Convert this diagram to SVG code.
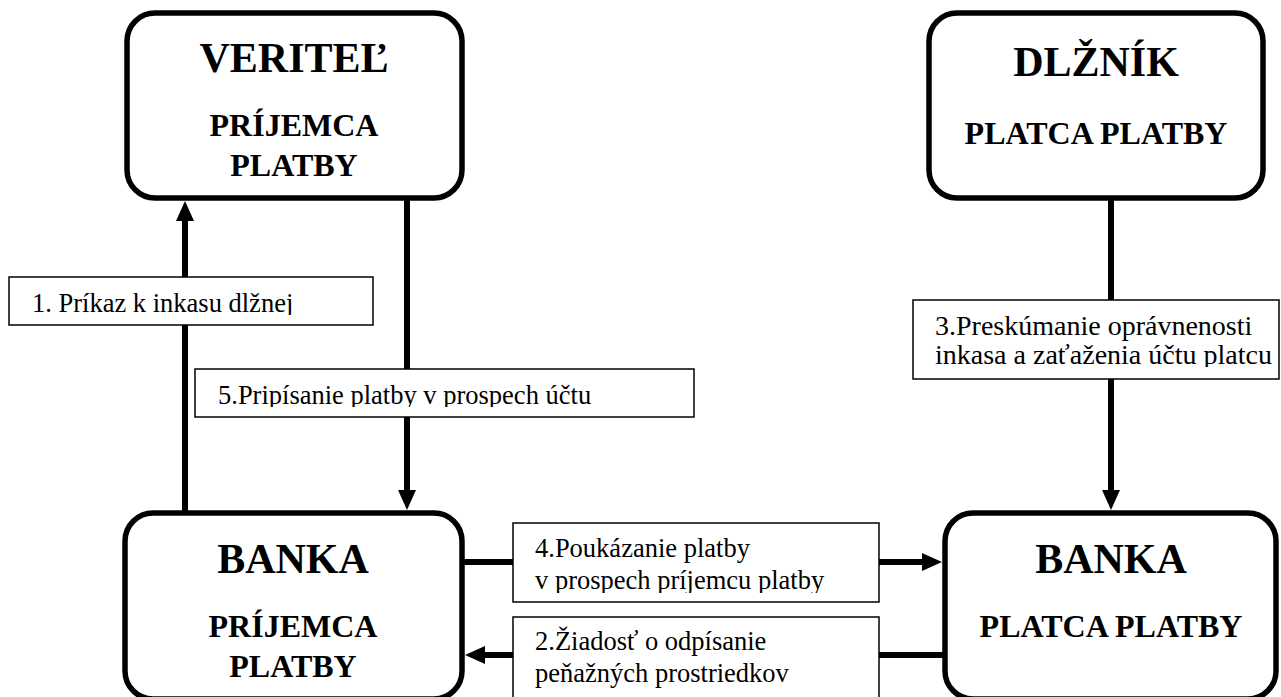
<svg xmlns="http://www.w3.org/2000/svg" width="1281" height="697" viewBox="0 0 1281 697">
<style>
.node{fill:#fff;stroke:#000;stroke-width:5.5}
.title{font-family:"Liberation Serif","Times New Roman",serif;font-weight:bold;font-size:42px;text-anchor:middle;fill:#000}
.sub{font-family:"Liberation Serif","Times New Roman",serif;font-weight:bold;font-size:32px;text-anchor:middle;fill:#000}
.conn{stroke:#000;stroke-width:6;fill:none}
.head{fill:#000}
.lbox{fill:#fff;stroke:#000;stroke-width:1.5}
.ltxt{font-family:"Liberation Serif","Times New Roman",serif;font-size:26.5px;fill:#000}
</style>
<defs>
<clipPath id="c1"><rect x="9" y="277" width="364" height="38"/></clipPath>
<clipPath id="c5"><rect x="195" y="369" width="499" height="38"/></clipPath>
<clipPath id="c3"><rect x="913" y="300" width="366" height="67"/></clipPath>
<clipPath id="c4"><rect x="513" y="523" width="366" height="70"/></clipPath>
<clipPath id="c2"><rect x="513" y="617" width="366" height="90"/></clipPath>
</defs>
<g id="connectors">
<line class="conn" x1="185" y1="513" x2="185" y2="215"/>
<polygon class="head" points="185,201 176,221 194,221"/>
<line class="conn" x1="407" y1="198" x2="407" y2="495"/>
<polygon class="head" points="407,510 398,490 416,490"/>
<line class="conn" x1="1111" y1="198" x2="1111" y2="495"/>
<polygon class="head" points="1111,510 1102,490 1120,490"/>
<line class="conn" x1="462" y1="562" x2="926" y2="562"/>
<polygon class="head" points="942,562 922,553 922,571"/>
<line class="conn" x1="945" y1="655" x2="480" y2="655"/>
<polygon class="head" points="465,655 485,646 485,664"/>
</g>
<g id="veritel">
<rect class="node" x="127" y="13" width="335" height="185" rx="28"/>
<text class="title" x="294" y="72">VERITEĽ</text>
<text class="sub" x="294" y="136">PRÍJEMCA</text>
<text class="sub" x="294" y="176">PLATBY</text>
</g>
<g id="dlznik">
<rect class="node" x="929" y="13" width="334" height="185" rx="28"/>
<text class="title" x="1096" y="76">DLŽNÍK</text>
<text class="sub" x="1096" y="144">PLATCA PLATBY</text>
</g>
<g id="banka-prijemca">
<rect class="node" x="125" y="513" width="337" height="186" rx="28"/>
<text class="title" x="293" y="573">BANKA</text>
<text class="sub" x="293" y="637">PRÍJEMCA</text>
<text class="sub" x="293" y="677">PLATBY</text>
</g>
<g id="banka-platca">
<rect class="node" x="945" y="513" width="331" height="186" rx="28"/>
<text class="title" x="1111" y="573">BANKA</text>
<text class="sub" x="1111" y="637">PLATCA PLATBY</text>
</g>
<g id="label1">
<rect class="lbox" x="9" y="277" width="364" height="48"/>
<text class="ltxt" x="32" y="312" clip-path="url(#c1)">1. Príkaz k inkasu dlžnej</text>
</g>
<g id="label5">
<rect class="lbox" x="195" y="369" width="499" height="48"/>
<text class="ltxt" x="218" y="404" clip-path="url(#c5)">5.Pripísanie platby v prospech účtu</text>
</g>
<g id="label3">
<rect class="lbox" x="913" y="300" width="366" height="79"/>
<g clip-path="url(#c3)">
<text class="ltxt" x="935" y="335" style="font-size:28px">3.Preskúmanie oprávnenosti</text>
<text class="ltxt" x="935" y="364" style="font-size:28px">inkasa a zaťaženia účtu platcu</text>
</g>
</g>
<g id="label4">
<rect class="lbox" x="513" y="523" width="366" height="79"/>
<g clip-path="url(#c4)">
<text class="ltxt" x="535" y="557">4.Poukázanie platby</text>
<text class="ltxt" x="535" y="589">v prospech príjemcu platby</text>
</g>
</g>
<g id="label2">
<rect class="lbox" x="513" y="617" width="366" height="90"/>
<g clip-path="url(#c2)">
<text class="ltxt" x="535" y="650">2.Žiadosť o odpísanie</text>
<text class="ltxt" x="535" y="682">peňažných prostriedkov</text>
</g>
</g>
</svg>
